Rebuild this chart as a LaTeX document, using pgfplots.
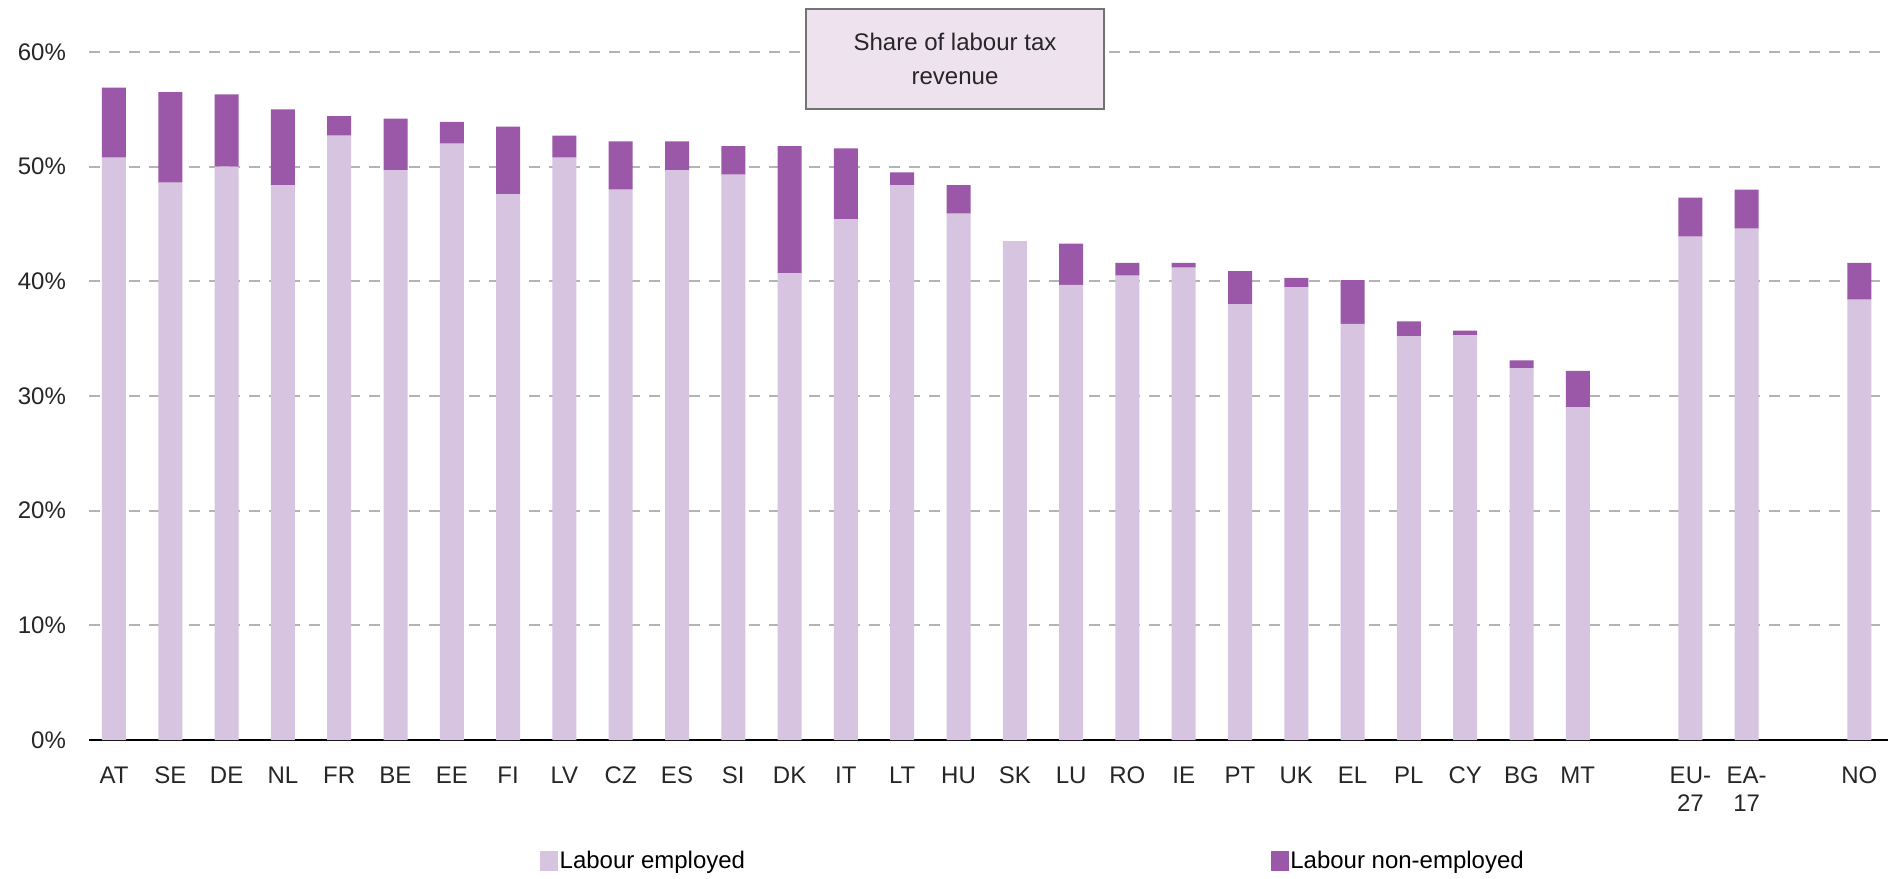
\documentclass[border=0pt]{standalone}
\usepackage{pgfplots}
\pgfplotsset{compat=1.18}
\usepackage{pgfplotstable}
\usepackage{fontspec}
\setmainfont{Liberation Sans}
\definecolor{emp}{HTML}{D6C4E0}
\definecolor{nonemp}{HTML}{9B57A8}
\definecolor{gridc}{HTML}{B4B4B4}
\definecolor{boxfill}{HTML}{EEE2EF}

\pgfplotstableread{
x  emp   non
0  50.8  6.1
1  48.6  7.9
2  50.0  6.3
3  48.4  6.6
4  52.7  1.7
5  49.7  4.5
6  52.0  1.9
7  47.6  5.9
8  50.8  1.9
9  48.0  4.2
10 49.7  2.5
11 49.3  2.5
12 40.7  11.1
13 45.4  6.2
14 48.4  1.1
15 45.9  2.5
16 43.5  0.0
17 39.7  3.6
18 40.5  1.1
19 41.2  0.4
20 38.0  2.9
21 39.5  0.8
22 36.3  3.8
23 35.2  1.3
24 35.3  0.4
25 32.4  0.7
26 29.0  3.2
28 43.9  3.4
29 44.6  3.4
31 38.4  3.2
}\datatable

\begin{document}
\begin{tikzpicture}
\path[use as bounding box] (0,0) rectangle (947.5pt,439pt);
\begin{axis}[
  at={(44.5pt,69pt)}, anchor=south west,
  scale only axis,
  width=899.5pt, height=344pt,
  xmin=-0.444, xmax=31.51,
  ymin=0, ymax=60,
  ybar stacked,
  bar width=12pt,
  axis x line*=bottom,
  axis y line*=left,
  x axis line style={black, line width=1.2pt, -},
  y axis line style={draw=none},
  major tick length=0pt,
  xtick={0,1,2,3,4,5,6,7,8,9,10,11,12,13,14,15,16,17,18,19,20,21,22,23,24,25,26,28,29,31},
  xticklabels={AT,SE,DE,NL,FR,BE,EE,FI,LV,CZ,ES,SI,DK,IT,LT,HU,SK,LU,RO,IE,PT,UK,EL,PL,CY,BG,MT,{EU-\\27},{EA-\\17},NO},
  x tick label style={font=\fontsize{12}{14}\selectfont, align=center, yshift=-10pt, text=black!85},
  ytick={0,10,20,30,40,50,60},
  yticklabel={\pgfmathprintnumber{\tick}\%},
  y tick label style={font=\fontsize{12}{14}\selectfont, xshift=-8pt, text=black!85},
  /pgf/number format/assume math mode=true,
  ymajorgrids,
  major grid style={gridc, line width=1pt, dash pattern=on 5.5pt off 4.5pt},
  legend columns=2,
  legend style={at={(0.2505,-0.177)}, anchor=west, draw=none, fill=none,
    font=\fontsize{12}{14}\selectfont, inner sep=0pt,
    /tikz/every even column/.append style={column sep=262pt},
    nodes={inner sep=0.8pt}},
  legend image code/.code={\fill[#1] (0pt,-4.5pt) rectangle (9pt,5.5pt);},
]
\addplot[fill=emp, draw=none] table[x=x, y=emp] {\datatable};
\addlegendentry{Labour employed}
\addplot[fill=nonemp, draw=none] table[x=x, y=non] {\datatable};
\addlegendentry{Labour non-employed}
\end{axis}
\node[draw=gray!90!black, line width=0.8pt, fill=boxfill, minimum width=149pt, minimum height=50pt,
  align=center, font=\fontsize{12}{17}\selectfont, text=black!85] at (477.5pt,409.5pt)
  {Share of labour tax\\revenue};
\end{tikzpicture}
\end{document}
